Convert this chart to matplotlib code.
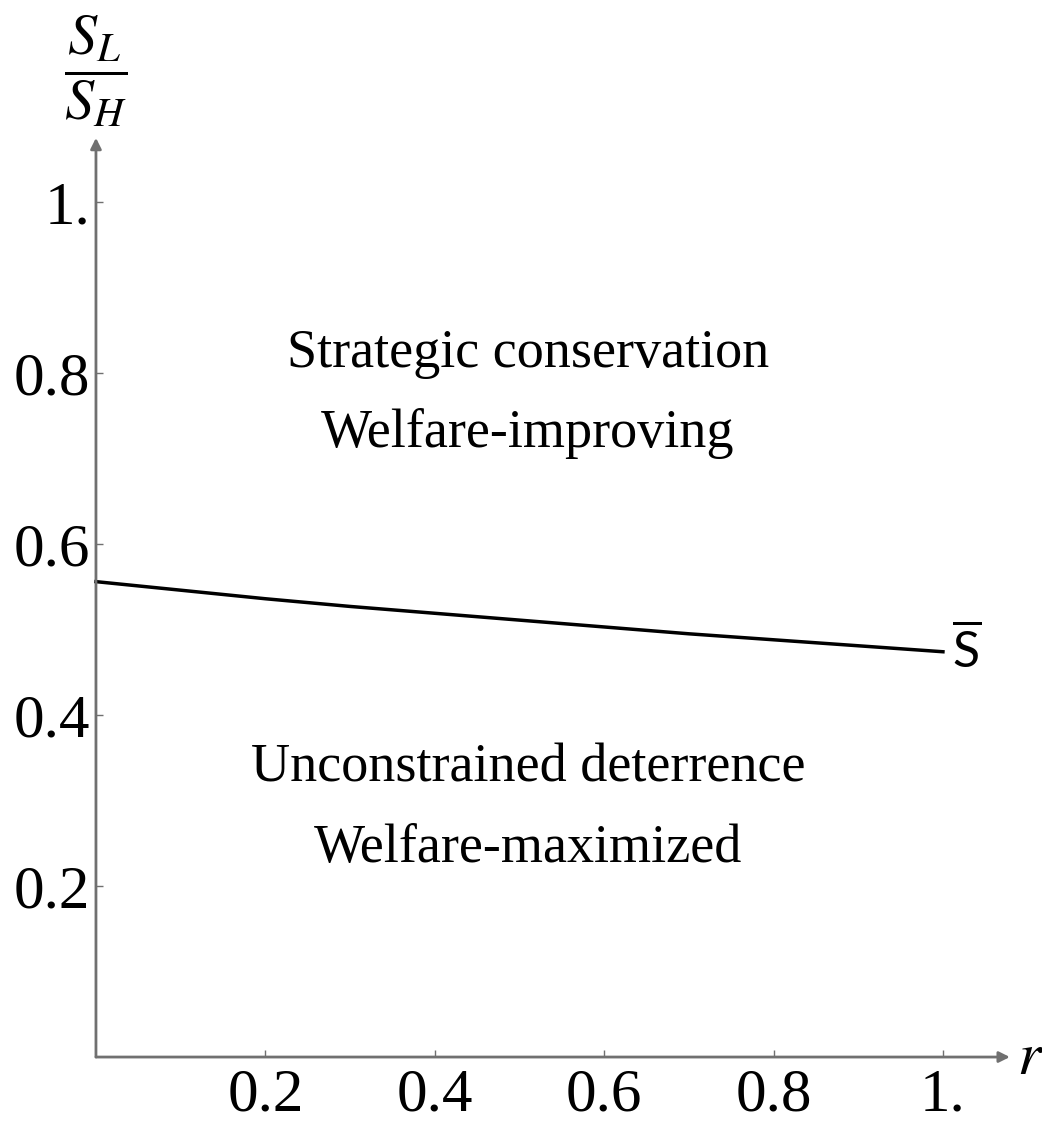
import matplotlib
matplotlib.use('Agg')
import matplotlib.pyplot as plt

# threshold curve S-bar(r)
r_vals = [0.0, 0.1, 0.2, 0.3, 0.4, 0.5, 0.6, 0.7, 0.8, 0.9, 1.0]
s_bar = [0.556, 0.546, 0.536, 0.527, 0.519, 0.511, 0.503, 0.495, 0.488, 0.481, 0.474]

x_ticks = [0.2, 0.4, 0.6, 0.8, 1.0]
x_tick_labels = ['0.2', '0.4', '0.6', '0.8', '1.']
y_ticks = [0.2, 0.4, 0.6, 0.8, 1.0]
y_tick_labels = ['0.2', '0.4', '0.6', '0.8', '1.']

region_upper = ['Strategic conservation', 'Welfare-improving']
region_lower = ['Unconstrained deterrence', 'Welfare-maximized']

plt.rcParams['mathtext.fontset'] = 'custom'
plt.rcParams['mathtext.rm'] = 'Lato'
plt.rcParams['mathtext.it'] = 'Lato:italic'
serif = 'Liberation Serif'
axis_col = '#707070'

fig = plt.figure(figsize=(10.42, 11.22), dpi=100)
ax = fig.add_axes([0.0921, 0.0579, 0.8738, 0.8154])
ax.set_xlim(0, 1.075)
ax.set_ylim(0, 1.07)
xmax, ymax = 1.079, 1.075
for sp in ax.spines.values():
    sp.set_visible(False)

# axes with arrow heads
arrow = dict(arrowstyle='-|>', color=axis_col, lw=2, mutation_scale=16,
             shrinkA=0, shrinkB=0)
ax.annotate('', xy=(xmax, 0), xytext=(0, 0), arrowprops=arrow,
            annotation_clip=False)
ax.annotate('', xy=(0, ymax), xytext=(0, 0), arrowprops=arrow,
            annotation_clip=False)

ax.set_xticks(x_ticks)
ax.set_xticklabels(x_tick_labels)
ax.set_yticks(y_ticks)
ax.set_yticklabels(y_tick_labels)
ax.tick_params(direction='in', length=5, width=1, color=axis_col,
               labelsize=44)
ax.tick_params(axis='x', pad=8)
ax.tick_params(axis='y', pad=4)
for lab in ax.get_xticklabels() + ax.get_yticklabels():
    lab.set_family(serif)

ax.plot(r_vals, s_bar, color='black', lw=2.5, clip_on=False)
ax.text(1.011, s_bar[-1], r'$\overline{\mathrm{S}}$', fontsize=36,
        ha='left', va='center')

ax.text(1.087, 0.0, r'$r$', fontsize=44, ha='left', va='center',
        math_fontfamily='stix')
ax.text(0.0, 1.153, r'$\dfrac{S_L}{S_H}$', fontsize=42, ha='center',
        va='center', math_fontfamily='stix', clip_on=False)

ax.text(0.51, 0.807, region_upper[0], family=serif, fontsize=39, ha='center', va='baseline')
ax.text(0.51, 0.713, region_upper[1], family=serif, fontsize=39, ha='center', va='baseline')
ax.text(0.51, 0.322, region_lower[0], family=serif, fontsize=39, ha='center', va='baseline')
ax.text(0.51, 0.228, region_lower[1], family=serif, fontsize=39, ha='center', va='baseline')

fig.savefig('out.png', dpi=100)
